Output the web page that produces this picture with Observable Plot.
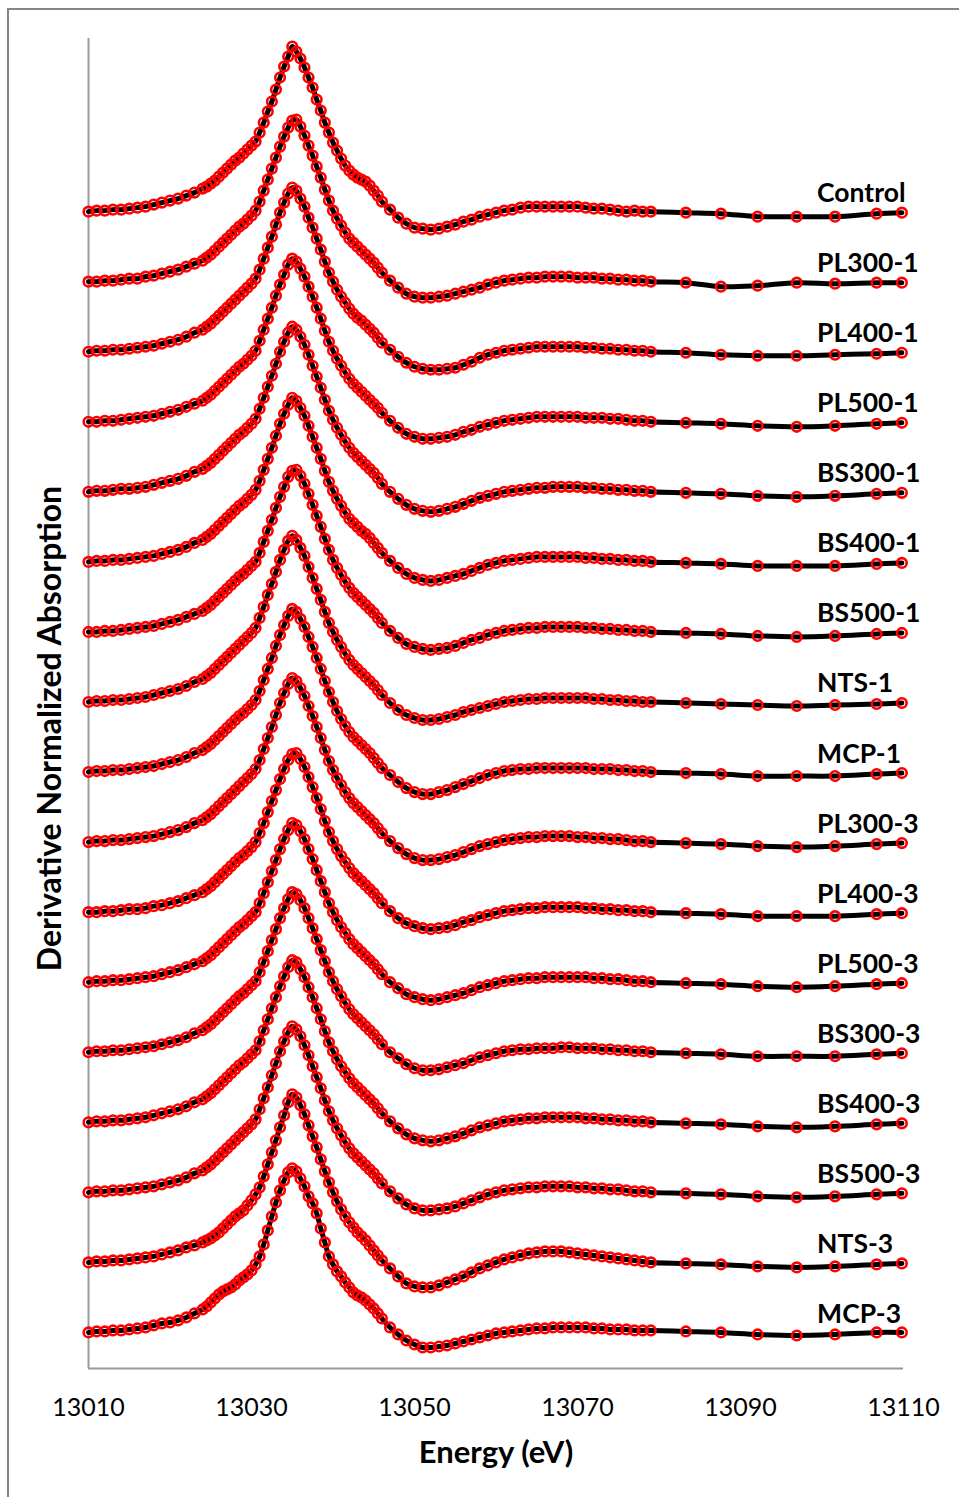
<!DOCTYPE html>
<html>
<head>
<meta charset="utf-8">
<script src="https://cdn.jsdelivr.net/npm/d3@7"></script>
<script src="https://cdn.jsdelivr.net/npm/@observablehq/plot@0.6"></script>
<style>
  html, body { margin: 0; padding: 0; background: #fff; }
  #wrap { position: relative; width: 959px; height: 1497px; overflow: hidden; }
  #frame { position: absolute; left: 7px; top: 8px; width: 1000px; height: 1600px;
           border-left: 2px solid #858585; border-top: 2px solid #858585; pointer-events: none; }
  #chart { position: absolute; left: 0; top: 0; }
</style>
</head>
<body>
<div id="wrap"><div id="chart"></div><div id="frame"></div></div>
<script>
// Energy grid (eV)
const energy = [
  13010,13011,13012,13013,13014,13015,13016,13017,13018,13019,13020,13021,13022,13023,13024,
  13024.5,13025,13025.5,13026,13026.5,13027,13027.5,13028,13028.5,13029,13029.5,13030,13030.5,13031,13031.5,
  13032,13032.5,13033,13033.5,13034,13034.5,13035,13035.5,13036,13036.5,13037,13037.5,13038,13038.5,13039,
  13039.5,13040,13040.5,13041,13041.5,13042,13042.5,13043,13043.5,13044,13044.5,13045,13045.5,13046,
  13047,13048,13049,13050,13051,13052,13053,13054,13055,13056,13057,13058,13059,13060,13061,13062,13063,
  13064,13065,13066,13067,13068,13069,13070,13071,13072,13073,13074,13075,13076,13077,13078,13079,
  13083.3,13087.6,13092.1,13096.9,13101.6,13106.7,13109.8
];

// Derivative of normalized absorption, in units of 0.01 (each spectrum relative to its own baseline)
const control = [0,1,1,2,2,3,4,5,7,9,11,13,16,19,23,
  25,28,31,35,39,43,47,51,54,58,62,66,70,79,89,100,110,122,134,145,155,165,160,153,144,134,124,112,101,89,79,69,61,53,46,41,37,34,32,30,26,21,16,10,
  2,-6,-12,-16,-17,-18,-17,-15,-13,-10,-8,-5,-3,-1,1,2,4,5,5,5,5,5,5,5,4,3,3,2,1,0,1,0,0,
  -1,-2,-5,-5,-5,-2,-1];
const pl300_1 = [0,0,1,1,2,3,3,5,6,8,10,12,15,18,21,
  24,27,31,35,39,43,47,51,55,58,62,66,71,80,91,102,113,124,135,145,154,161,162,155,146,136,126,115,104,92,81,71,63,56,49,43,39,35,31,27,23,19,14,9,
  1,-6,-12,-15,-16,-16,-15,-14,-12,-10,-8,-6,-3,-1,1,2,3,4,4,5,5,5,5,4,4,4,3,3,2,2,1,1,0,
  -1,-5,-4,-1,-2,-1,-1];
const pl400_1 = [0,1,1,2,2,3,4,5,6,8,10,12,15,19,22,
  25,28,32,36,40,44,48,52,56,60,64,68,73,82,93,104,115,127,139,149,158,164,161,153,145,134,124,113,102,90,79,70,62,55,49,43,38,34,31,27,23,19,14,9,
  2,-5,-11,-15,-17,-18,-18,-17,-16,-13,-10,-6,-3,-1,1,2,3,4,5,5,5,5,5,5,4,4,3,3,2,2,1,1,0,
  -1,-3,-4,-4,-3,-2,-1];
const pl500_1 = [0,0,1,1,2,3,4,5,6,8,10,12,15,18,21,
  24,27,31,35,39,43,47,51,55,58,62,66,71,81,92,103,114,126,137,147,157,163,160,153,145,135,125,114,103,91,80,71,63,56,49,43,38,34,30,26,22,18,14,9,
  1,-6,-12,-15,-17,-17,-16,-15,-13,-10,-8,-5,-3,-1,1,2,3,4,5,5,5,5,5,5,4,4,4,3,3,2,1,1,0,
  -1,-2,-4,-5,-4,-2,-1];
const bs300_1 = [0,1,1,2,3,3,4,5,7,9,11,13,16,20,23,
  26,29,33,37,41,45,49,53,57,60,64,68,73,83,94,105,116,128,140,150,159,165,162,155,147,137,126,115,104,92,81,72,64,57,50,44,39,35,31,27,23,19,14,8,
  0,-7,-13,-17,-19,-20,-19,-17,-15,-12,-9,-6,-4,-2,0,1,2,3,4,4,5,5,5,5,4,4,3,3,2,2,1,1,0,
  -1,-2,-4,-5,-4,-2,-1];
const bs400_1 = [0,1,1,2,2,3,4,5,6,8,10,12,15,19,22,
  25,28,32,36,40,44,48,52,56,59,63,67,72,81,92,103,114,126,138,148,157,164,161,154,146,136,125,114,103,91,80,71,63,56,49,43,39,35,31,28,24,19,14,9,
  1,-6,-12,-16,-18,-19,-18,-16,-14,-12,-9,-6,-3,-1,1,2,3,4,5,5,5,5,5,5,4,4,3,3,2,2,1,1,0,
  -1,-2,-4,-4,-4,-2,-1];
const bs500_1 = [0,0,1,1,2,3,4,5,6,8,10,12,15,18,21,
  24,27,31,35,39,43,47,51,55,58,62,66,70,79,90,101,112,124,135,145,155,161,162,156,148,138,127,116,105,93,82,72,64,57,50,44,39,35,31,27,23,19,14,9,
  1,-6,-12,-15,-17,-18,-17,-16,-14,-11,-8,-6,-3,-1,1,2,3,4,4,5,5,5,5,5,4,4,3,3,2,2,1,1,0,
  -1,-2,-4,-5,-4,-2,-1];
const nts_1 = [0,1,1,2,2,3,4,5,7,9,11,13,16,20,23,
  26,29,33,37,41,45,49,53,57,61,65,69,74,84,95,107,118,130,142,152,161,166,162,154,146,135,124,113,102,90,79,70,62,55,48,42,37,33,29,25,21,17,12,7,
  -1,-8,-13,-16,-18,-18,-17,-15,-13,-10,-8,-6,-4,-2,0,1,2,3,3,4,4,4,4,4,4,3,3,2,2,1,1,0,0,
  -1,-2,-3,-4,-3,-2,-1];
const mcp_1 = [0,1,1,2,2,3,4,5,6,8,10,12,15,19,22,
  25,28,32,36,40,44,48,52,56,59,63,67,72,81,92,103,114,126,137,147,156,163,160,153,145,135,125,114,103,91,80,70,61,53,46,40,35,31,27,23,19,14,9,4,
  -3,-10,-16,-20,-22,-22,-20,-18,-15,-12,-9,-6,-3,-1,1,2,3,3,4,4,4,4,4,4,4,3,3,3,2,2,1,1,0,
  -1,-2,-4,-4,-4,-2,-1];
const pl300_3 = [0,1,1,2,2,3,4,5,6,8,10,12,15,19,22,
  25,28,32,36,40,44,48,52,56,60,64,68,73,82,93,104,115,127,139,149,158,164,161,154,146,136,126,115,104,92,81,72,64,57,50,44,39,35,31,27,23,19,14,9,
  1,-6,-12,-16,-18,-18,-17,-15,-13,-10,-7,-4,-2,0,2,3,4,5,5,6,6,6,6,5,5,4,4,3,3,2,1,1,0,
  -1,-2,-4,-5,-4,-2,-1];
const pl400_3 = [0,0,1,1,2,3,3,4,6,7,9,11,14,17,20,
  23,26,30,34,38,42,46,50,54,57,61,65,70,79,89,100,111,122,133,143,152,158,159,153,145,135,125,114,103,91,80,71,63,56,50,44,39,35,31,27,23,19,14,9,
  1,-6,-11,-14,-16,-17,-16,-15,-13,-10,-8,-5,-3,-1,1,2,3,4,4,5,5,5,5,5,4,4,3,3,2,2,1,1,0,
  -1,-2,-4,-4,-4,-2,-1];
const pl500_3 = [0,1,1,2,2,3,4,5,6,8,10,12,15,18,21,
  24,27,31,35,39,43,47,51,55,58,62,66,70,79,89,100,111,122,133,143,152,159,157,151,143,133,123,112,101,90,79,70,62,55,49,43,38,34,30,26,22,18,13,8,
  0,-6,-12,-15,-17,-18,-17,-15,-13,-11,-8,-5,-3,-1,1,2,3,4,4,5,5,5,5,5,5,4,4,3,3,2,1,1,0,
  -1,-2,-4,-5,-4,-2,-1];
const bs300_3 = [0,1,1,2,2,3,4,5,6,8,10,12,15,19,22,
  25,28,32,36,40,44,48,52,56,59,63,67,71,80,90,101,112,123,134,144,153,160,158,152,144,134,124,113,102,91,80,71,63,56,49,43,38,34,30,26,22,18,13,8,
  0,-6,-12,-16,-18,-18,-17,-15,-13,-11,-8,-5,-3,-1,1,2,3,3,4,4,4,5,5,4,4,4,3,3,2,2,1,1,0,
  -1,-2,-4,-4,-4,-2,-1];
const bs400_3 = [0,1,1,2,2,3,4,5,7,9,11,13,16,20,23,
  26,29,33,37,41,45,49,53,57,60,64,68,72,81,92,103,114,125,136,146,155,162,160,153,145,135,125,114,103,91,80,71,63,56,50,44,39,35,31,27,23,19,14,9,
  1,-6,-12,-16,-18,-19,-18,-16,-14,-11,-8,-5,-3,-1,1,2,3,4,4,5,5,5,5,5,4,4,3,3,2,2,1,1,0,
  -1,-2,-4,-5,-4,-2,-1];
const bs500_3 = [0,1,1,2,2,3,4,5,6,8,10,12,15,19,22,
  25,28,32,36,40,44,48,52,56,60,64,68,73,83,94,105,117,129,141,151,160,166,163,156,147,137,126,115,104,92,81,72,64,57,50,44,39,35,31,27,23,19,14,9,
  1,-6,-12,-16,-18,-18,-17,-16,-14,-11,-8,-5,-2,0,2,3,4,5,5,6,6,6,6,5,5,4,4,3,3,2,1,1,0,
  -1,-2,-4,-5,-4,-2,-1];
const nts_3 = [0,1,1,2,2,3,4,5,6,8,10,12,15,17,20,
  22,24,27,30,34,38,42,46,49,52,57,62,68,75,86,98,110,122,135,147,160,168,165,157,148,137,126,115,103,91,80,70,61,53,46,40,35,30,26,22,17,12,7,2,
  -6,-14,-21,-24,-25,-25,-23,-20,-17,-14,-10,-6,-3,0,3,5,7,9,10,11,11,11,10,9,8,7,6,5,4,3,2,1,0,
  -1,-2,-4,-5,-4,-2,-1];
const mcp_3 = [0,1,1,2,2,3,4,5,7,9,10,12,15,19,23,
  26,30,34,38,41,43,45,48,52,55,58,62,68,76,88,102,116,130,142,152,160,164,161,154,146,136,129,119,104,90,76,68,61,56,50,45,40,37,35,32,28,24,19,14,
  5,-2,-8,-12,-15,-15,-14,-13,-11,-9,-7,-5,-3,-1,0,1,2,3,4,4,5,5,5,5,5,4,4,3,3,3,2,2,2,
  1,0,-2,-3,-2,0,0];

const names = ["Control","PL300-1","PL400-1","PL500-1","BS300-1","BS400-1","BS500-1","NTS-1","MCP-1",
               "PL300-3","PL400-3","PL500-3","BS300-3","BS400-3","BS500-3","NTS-3","MCP-3"];
const spectra = [control,pl300_1,pl400_1,pl500_1,bs300_1,bs400_1,bs500_1,nts_1,mcp_1,
                 pl300_3,pl400_3,pl500_3,bs300_3,bs400_3,bs500_3,nts_3,mcp_3];
const xTicks = [13010,13030,13050,13070,13090,13110];

const unit = 0.01;      // stored values are in hundredths
const step = 0.70;      // vertical offset between stacked spectra
const n = names.length;

spectra.forEach((s, i) => {
  if (s.length !== energy.length) throw new Error(names[i] + " has " + s.length + " values, expected " + energy.length);
});

const rows = [];
spectra.forEach((s, i) => {
  const off = (n - 1 - i) * step;
  s.forEach((v, j) => rows.push({name: names[i], e: energy[j], v: v * unit + off}));
});
const labelRows = names.map((name, i) => ({name, off: (n - 1 - i) * step}));

const yMin = -0.36, yMax = 12.93;

const chart = Plot.plot({
  width: 959,
  height: 1497,
  marginLeft: 88,
  marginRight: 56,
  marginTop: 38,
  marginBottom: 129,
  style: {fontFamily: "Lato, 'Open Sans', sans-serif", background: "transparent", color: "black"},
  x: {domain: [13010, 13110]},
  y: {domain: [yMin, yMax], axis: null},
  marks: [
    Plot.ruleX([13010], {stroke: "#9a9a9a", strokeWidth: 2}),
    Plot.ruleY([yMin], {stroke: "#9a9a9a", strokeWidth: 2}),
    Plot.axisX(xTicks, {tickSize: 0, tickPadding: 30, tickFormat: d => String(d), fontSize: 25, label: null}),
    Plot.line(rows, {x: "e", y: "v", z: "name", stroke: "black", strokeWidth: 5, curve: "catmull-rom"}),
    Plot.dot(rows, {x: "e", y: "v", r: 4.8, stroke: "#ff0000", strokeWidth: 2.6, fill: "none"}),
    Plot.text(labelRows, {x: () => 13099.4, y: d => d.off + 0.18, text: "name", textAnchor: "start",
      fontWeight: "bold", fontSize: 26.5, fill: "black"}),
    Plot.text(["Energy (eV)"], {frameAnchor: "bottom", textAnchor: "middle", lineAnchor: "middle", dy: 85,
      fontWeight: "bold", fontSize: 31, fill: "black"}),
    Plot.text(["Derivative Normalized Absorption"], {frameAnchor: "left", textAnchor: "middle", lineAnchor: "middle",
      rotate: -90, dx: -38, dy: 25, fontWeight: "bold", fontSize: 32, fill: "black"})
  ]
});
document.getElementById("chart").appendChild(chart);
</script>
</body>
</html>
